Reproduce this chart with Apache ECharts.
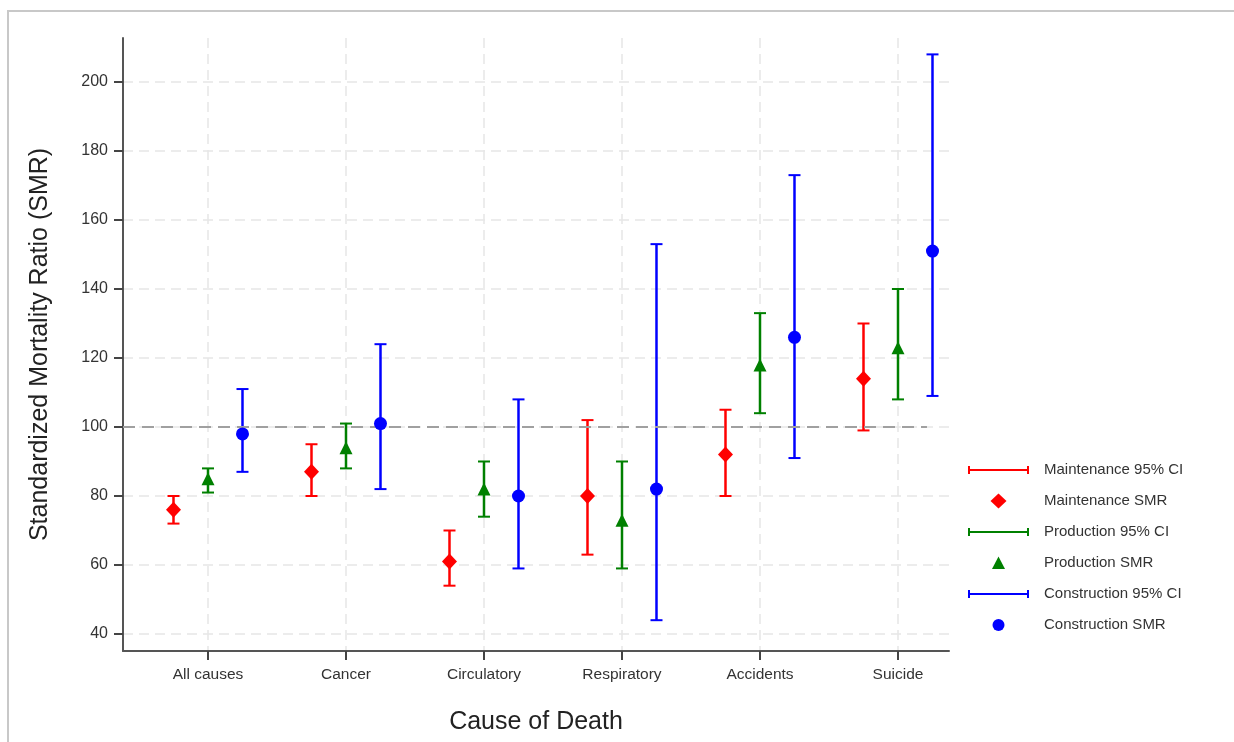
<!DOCTYPE html>
<html>
<head>
<meta charset="utf-8">
<script src="https://cdn.jsdelivr.net/npm/echarts@6/dist/echarts.min.js"></script>
<style>
  html, body { margin: 0; padding: 0; background: #ffffff; }
  #chart { width: 1234px; height: 742px; }
</style>
</head>
<body>
<div id="chart"></div>
<script>
// Causes of death along the x axis
const categories = ['All causes', 'Cancer', 'Circulatory', 'Respiratory', 'Accidents', 'Suicide'];

// Maintenance workers
const maintenanceSMR  = [76, 87, 61, 80, 92, 114];
const maintenanceLow  = [72, 80, 54, 63, 80, 99];
const maintenanceHigh = [80, 95, 70, 102, 105, 130];

// Production workers
const productionSMR  = [85, 94, 82, 73, 118, 123];
const productionLow  = [81, 88, 74, 59, 104, 108];
const productionHigh = [88, 101, 90, 90, 133, 140];

// Construction workers
const constructionSMR  = [98, 101, 80, 82, 126, 151];
const constructionLow  = [87, 82, 59, 44, 91, 109];
const constructionHigh = [111, 124, 108, 153, 173, 208];

// Axis ticks and the SMR = 100 reference
const yTicks = [40, 60, 80, 100, 120, 140, 160, 180, 200];
const xTicks = [1, 2, 3, 4, 5, 6];
const referenceSMR = 100;

// Legend icons: each path spans the full 61x16 icon box so nothing gets stretched
const ciIcon = 'path://M0,0L0,0M61,16L61,16M0,4h2v3h57v-3h2v8h-2v-3h-57v3h-2z';
const diamondIcon = 'path://M0,0L0,0M61,16L61,16M30.5,0.5L38.5,8L30.5,15.5L22.5,8z';
const triangleIcon = 'path://M0,0L0,0M61,16L61,16M30.5,1.5L37,14L24,14z';
const circleIcon = 'path://M0,0L0,0M61,16L61,16M36.5,8A6,6,0,1,1,24.5,8A6,6,0,1,1,36.5,8z';

const groups = [
  { name: 'Maintenance', color: '#ff0000', offset: -0.25, symbol: 'diamond', size: [15, 16], icon: diamondIcon, smr: maintenanceSMR, lo: maintenanceLow, hi: maintenanceHigh },
  { name: 'Production', color: '#008000', offset: 0, symbol: 'triangle', size: [13, 13], icon: triangleIcon, smr: productionSMR, lo: productionLow, hi: productionHigh },
  { name: 'Construction', color: '#0000ff', offset: 0.25, symbol: 'circle', size: 13, icon: circleIcon, smr: constructionSMR, lo: constructionLow, hi: constructionHigh }
];

function errorBarItem(color) {
  return function (params, api) {
    const x = api.value(0);
    const top = api.coord([x, api.value(2)]);
    const bottom = api.coord([x, api.value(1)]);
    const half = 6;
    return {
      type: 'group',
      children: [
        { type: 'line', shape: { x1: top[0], y1: top[1], x2: bottom[0], y2: bottom[1] }, style: { stroke: color, lineWidth: 2.5 } },
        { type: 'line', shape: { x1: top[0] - half, y1: top[1], x2: top[0] + half, y2: top[1] }, style: { stroke: color, lineWidth: 2 } },
        { type: 'line', shape: { x1: bottom[0] - half, y1: bottom[1], x2: bottom[0] + half, y2: bottom[1] }, style: { stroke: color, lineWidth: 2 } }
      ]
    };
  };
}

const series = [];
const legendData = [];
groups.forEach(function (g) {
  const bars = categories.map(function (c, i) { return [i + 1 + g.offset, g.lo[i], g.hi[i]]; });
  const points = categories.map(function (c, i) { return [i + 1 + g.offset, g.smr[i]]; });
  series.push({
    name: g.name + ' 95% CI',
    type: 'custom',
    renderItem: errorBarItem(g.color),
    encode: { x: 0, y: [1, 2] },
    itemStyle: { color: g.color },
    data: bars,
    z: 3
  });
  series.push({
    name: g.name + ' SMR',
    type: 'scatter',
    symbol: g.symbol,
    symbolSize: g.size,
    itemStyle: { color: g.color, opacity: 1 },
    data: points,
    z: 5
  });
  legendData.push({ name: g.name + ' 95% CI', icon: ciIcon });
  legendData.push({ name: g.name + ' SMR', icon: g.icon });
});

// Dashed reference line at SMR = 100
series.push({
  name: 'reference',
  type: 'line',
  data: [],
  silent: true,
  markLine: {
    silent: true,
    symbol: ['none', 'none'],
    label: { show: false },
    lineStyle: { color: '#a0a0a0', type: [12, 7], width: 2 },
    data: [[{ coord: [0.3841, referenceSMR] }, { coord: [6.21, referenceSMR] }]]
  },
  z: 2
});

const chart = echarts.init(document.getElementById('chart'), null, { renderer: 'canvas' });
chart.setOption({
  animation: false,
  backgroundColor: '#ffffff',
  textStyle: { fontFamily: 'Liberation Sans, Arial, sans-serif' },
  grid: { left: 123, top: 38, right: 285, bottom: 91, containLabel: false },
  graphic: [{
    type: 'polyline',
    shape: { points: [[8, 742], [8, 11], [1234, 11]] },
    style: { stroke: '#c8c8c8', lineWidth: 2, fill: null },
    silent: true
  }],
  legend: {
    orient: 'vertical',
    left: 963,
    top: 457,
    itemWidth: 61,
    itemHeight: 16,
    itemGap: 15,
    data: legendData,
    selectedMode: false,
    textStyle: { fontSize: 15, color: '#333333', lineHeight: 16, padding: [0, 0, 0, 10], fontFamily: 'Liberation Sans, Arial, sans-serif' }
  },
  xAxis: {
    type: 'value',
    min: 0.3841,
    max: 6.3696,
    name: 'Cause of Death',
    nameLocation: 'middle',
    nameGap: 59,
    nameTextStyle: { fontSize: 25, color: '#222222' },
    axisLine: { show: true, onZero: false, lineStyle: { color: '#555555', width: 2 } },
    axisTick: { show: true, customValues: xTicks, length: 9, lineStyle: { color: '#444444', width: 2 } },
    axisLabel: {
      customValues: xTicks,
      margin: 16,
      fontSize: 15.5,
      color: '#333333',
      formatter: function (v) { return categories[Math.round(v) - 1] || ''; }
    },
    splitLine: { show: true, lineStyle: { color: '#e6e6e6', type: [10, 6], width: 1.5 } }
  },
  yAxis: {
    type: 'value',
    min: 35.07,
    max: 212.75,
    name: 'Standardized Mortality Ratio (SMR)',
    nameLocation: 'middle',
    nameGap: 70,
    nameTextStyle: { fontSize: 25, color: '#222222' },
    axisLine: { show: true, onZero: false, lineStyle: { color: '#555555', width: 2 } },
    axisTick: { show: true, customValues: yTicks, length: 9, lineStyle: { color: '#444444', width: 2 } },
    axisLabel: { customValues: yTicks, margin: 15, fontSize: 16, color: '#333333' },
    splitLine: { show: true, lineStyle: { color: '#e6e6e6', type: [10, 6], width: 1.5 } }
  },
  series: series
});
</script>
</body>
</html>
